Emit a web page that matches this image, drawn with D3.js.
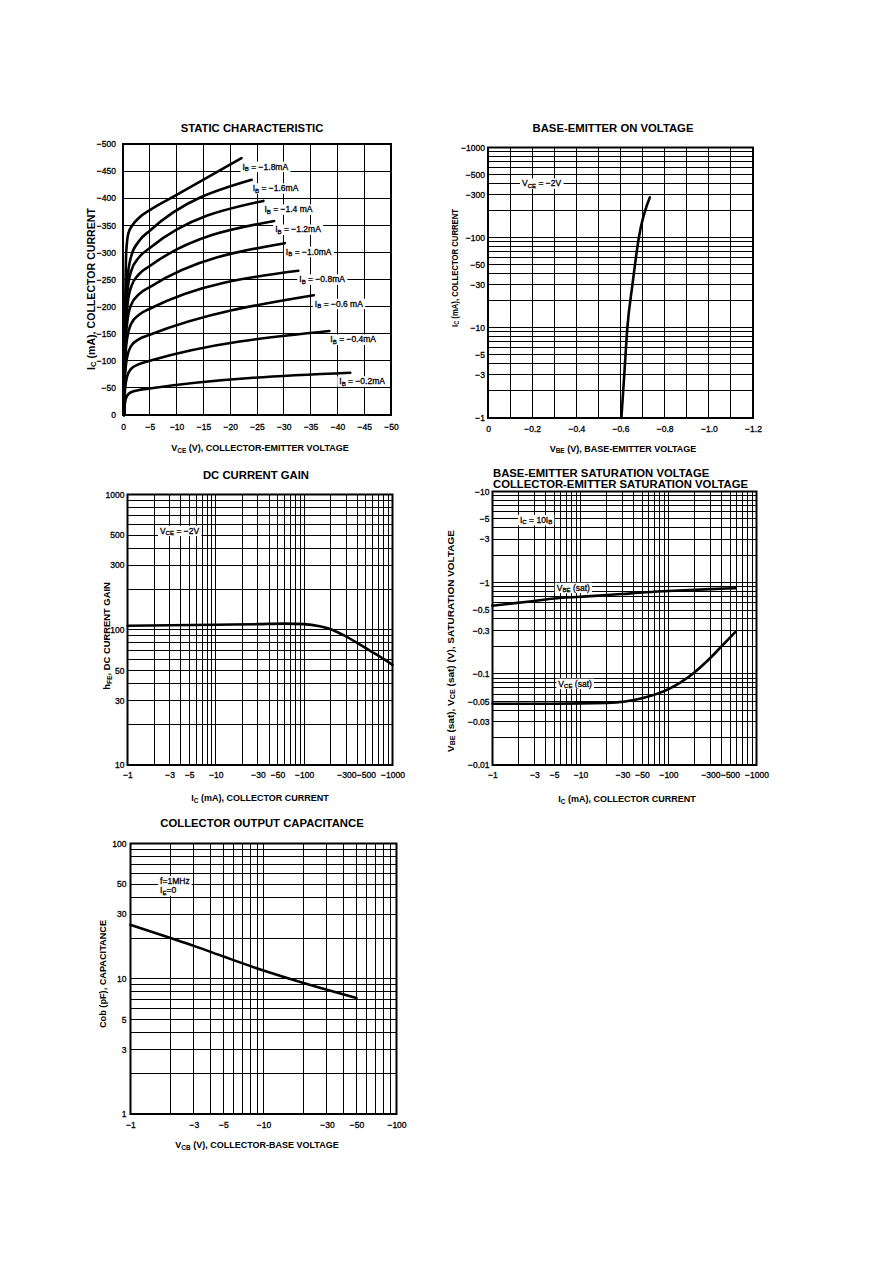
<!DOCTYPE html>
<html>
<head>
<meta charset="utf-8">
<script src="https://cdn.jsdelivr.net/npm/d3@7"></script>
<style>
body { margin: 0; background: #fff; }
svg text { font-family: "Liberation Sans", Arial, Helvetica, sans-serif; fill: #000; }
.grid line { stroke: #000; stroke-width: 1; shape-rendering: crispEdges; }
.frame { fill: none; stroke: #000; stroke-width: 2; }
.curve { fill: none; stroke: #000; stroke-width: 2.6; stroke-linejoin: round; stroke-linecap: round; }
.heavy { stroke: #000; stroke-width: 0.3px; }
</style>
</head>
<body>
<svg id="chart" width="892" height="1263"></svg>
<script>
// ---------------- data ----------------

// static characteristic (Vce in -V, Ic in -mA)
var vceTicks = [0, 5, 10, 15, 20, 25, 30, 35, 40, 45, 50];
var vceTickLabels = ["0", "\u22125", "\u221210", "\u221215", "\u221220", "\u221225", "\u221230", "\u221235", "\u221240", "\u221245", "\u221250"];
var icStaticTicks = [0, 50, 100, 150, 200, 250, 300, 350, 400, 450, 500];
var icStaticTickLabels = ["0", "\u221250", "\u2212100", "\u2212150", "\u2212200", "\u2212250", "\u2212300", "\u2212350", "\u2212400", "\u2212450", "\u2212500"];
var ibLabels = ["\u22120.2mA", "\u22120.4mA", "\u22120.6 mA", "\u22120.8mA", "\u22121.0mA", "\u22121.2mA", "\u22121.4 mA", "\u22121.6mA", "\u22121.8mA"];
var ib02 = [[0.2, 0], [0.4, 25], [0.8, 36], [1.5, 42], [3, 46], [5, 49], [42.4, 78]];
var ib04 = [[0.2, 0], [0.4, 50], [0.8, 72], [1.5, 85], [3, 94], [5, 100], [38.5, 155]];
var ib06 = [[0.2, 0], [0.4, 75], [0.8, 108], [1.5, 127], [3, 140], [5, 148], [35.6, 221]];
var ib08 = [[0.2, 0], [0.4, 100], [0.8, 143], [1.5, 168], [3, 185], [5, 196], [32.7, 266]];
var ib10 = [[0.2, 0], [0.4, 120], [0.8, 172], [1.5, 203], [3, 223], [5, 236], [30.2, 317]];
var ib12 = [[0.2, 0], [0.4, 140], [0.8, 200], [1.5, 236], [3, 260], [5, 275], [28.2, 358]];
var ib14 = [[0.2, 0], [0.4, 157], [0.8, 225], [1.5, 265], [3, 291], [5, 308], [26.2, 395]];
var ib16 = [[0.2, 0], [0.4, 173], [0.8, 248], [1.5, 292], [3, 321], [5, 340], [24.0, 434]];
var ib18 = [[0.2, 0], [0.4, 195], [0.6, 300], [1.0, 335], [1.9, 352], [3, 364], [5, 378], [10, 406], [22.1, 474]];

// base-emitter on voltage (Vbe in -V, Ic in -mA)
var vbeTicks = [0, 0.2, 0.4, 0.6, 0.8, 1.0, 1.2];
var vbeTickLabels = ["0", "\u22120.2", "\u22120.4", "\u22120.6", "\u22120.8", "\u22121.0", "\u22121.2"];
var icOnTicks = [1, 3, 5, 10, 30, 50, 100, 300, 500, 1000];
var icOnTickLabels = ["\u22121", "\u22123", "\u22125", "\u221210", "\u221230", "\u221250", "\u2212100", "\u2212300", "\u2212500", "\u22121000"];
var vbeOn = [[0.604, 1], [0.617, 3], [0.631, 10], [0.654, 30], [0.683, 100], [0.733, 280]];

// dc current gain
var icTicks = [1, 3, 5, 10, 30, 50, 100, 300, 500, 1000];
var icTickLabels = ["\u22121", "\u22123", "\u22125", "\u221210", "\u221230", "\u221250", "\u2212100", "\u2212300", "\u2212500", "\u22121000"];
var hfeTicks = [10, 30, 50, 100, 300, 500, 1000];
var hfeTickLabels = ["10", "30", "50", "100", "300", "500", "1000"];
var hfe = [[1, 107], [3, 108], [10, 109], [30, 110], [60, 111], [100, 110], [150, 106], [200, 101], [300, 89], [500, 73], [700, 64], [1000, 55]];

// saturation voltages
var satTicks = [0.01, 0.03, 0.05, 0.1, 0.3, 0.5, 1, 3, 5, 10];
var satTickLabels = ["\u22120.01", "\u22120.03", "\u22120.05", "\u22120.1", "\u22120.3", "\u22120.5", "\u22121", "\u22123", "\u22125", "\u221210"];
var vbeSat = [[1, 0.56], [3, 0.63], [5, 0.67], [10, 0.70], [30, 0.75], [50, 0.78], [100, 0.81], [300, 0.85], [580, 0.87]];
var vceSat = [[1, 0.047], [5, 0.047], [20, 0.048], [50, 0.054], [100, 0.068], [200, 0.105], [300, 0.15], [400, 0.2], [580, 0.29]];

// collector output capacitance
var vcbTicks = [1, 3, 5, 10, 30, 50, 100];
var vcbTickLabels = ["\u22121", "\u22123", "\u22125", "\u221210", "\u221230", "\u221250", "\u2212100"];
var cobTicks = [1, 3, 5, 10, 30, 50, 100];
var cobTickLabels = ["1", "3", "5", "10", "30", "50", "100"];
var cob = [[1, 25], [2, 20], [3, 17.5], [5, 14.6], [10, 11.5], [20, 9.3], [30, 8.3], [50, 7.2]];

// ---------------- drawing ----------------
var svg = d3.select("#chart");
svg.append("rect").attr("width", 892).attr("height", 1263).attr("fill", "#fff");

// text with subscripts written as X_{sub}
function subText(sel, str) {
    var re = /_\{([^}]*)\}/g, last = 0, m, shifted = false;
    while ((m = re.exec(str)) !== null) {
        if (m.index > last) {
            sel.append("tspan").attr("dy", shifted ? -1.5 : null).text(str.slice(last, m.index));
            shifted = false;
        }
        sel.append("tspan").style("font-size", "72%").attr("dy", shifted ? null : 1.5).text(m[1]);
        shifted = true;
        last = re.lastIndex;
    }
    if (last < str.length) sel.append("tspan").attr("dy", shifted ? -1.5 : null).text(str.slice(last));
    return sel;
}

// white box behind a label so grid lines stop at it
function boxed(g, x, y, str, size) {
    var t = g.append("text").attr("class", "heavy").attr("x", x).attr("y", y)
        .style("font-size", size + "px");
    subText(t, str);
    var b = t.node().getBBox();
    g.insert("rect", function () { return t.node(); })
        .attr("x", b.x - 2).attr("y", b.y).attr("width", b.width + 4).attr("height", b.height)
        .attr("fill", "#fff");
    return t;
}

function panel(p) {
    var g = svg.append("g");
    var x = p.x, y = p.y;
    var x0 = x.range()[0], x1 = x.range()[1], y0 = y.range()[0], y1 = y.range()[1];

    var grid = g.append("g").attr("class", "grid");
    grid.selectAll(".gx").data(p.gridX).enter().append("line")
        .attr("x1", function (d) { return x(d); }).attr("x2", function (d) { return x(d); })
        .attr("y1", y0).attr("y2", y1);
    grid.selectAll(".gy").data(p.gridY).enter().append("line")
        .attr("y1", function (d) { return y(d); }).attr("y2", function (d) { return y(d); })
        .attr("x1", x0).attr("x2", x1);

    g.append("rect").attr("class", "frame")
        .attr("x", x0).attr("y", y1).attr("width", x1 - x0).attr("height", y0 - y1);

    // axes
    var ax = g.append("g").attr("transform", "translate(0," + y0 + ")")
        .call(d3.axisBottom(x).tickValues(p.xTicks)
            .tickFormat(function (d, i) { return p.xLabels[i]; })
            .tickSize(0).tickPadding(p.xPad));
    ax.select(".domain").remove();
    ax.selectAll("text").attr("class", "heavy").style("font-size", "8.5px");

    var ay = g.append("g").attr("transform", "translate(" + x0 + ",0)")
        .call(d3.axisLeft(y).tickValues(p.yTicks)
            .tickFormat(function (d, i) { return p.yLabels[i]; })
            .tickSize(0).tickPadding(p.yPad));
    ay.select(".domain").remove();
    ay.selectAll("text").attr("class", "heavy").style("font-size", "8.5px");

    // titles
    if (p.title) {
        g.append("text").attr("x", p.title[0]).attr("y", p.title[1])
            .attr("text-anchor", "middle")
            .style("font-size", "11.3px").style("font-weight", "bold").text(p.title[2]);
    }
    subText(g.append("text").attr("x", p.xTitle[0]).attr("y", p.xTitle[1])
        .attr("text-anchor", "middle").style("font-size", "9px").style("font-weight", "bold"), p.xTitle[2]);
    var yt = g.append("text")
        .attr("transform", "translate(" + p.yTitle[0] + "," + p.yTitle[1] + ")rotate(-90)")
        .attr("text-anchor", "middle").style("font-size", (p.yTitle[3] || 9) + "px").style("font-weight", "bold");
    if (p.yTitle[4]) yt.attr("textLength", p.yTitle[4]).attr("lengthAdjust", "spacingAndGlyphs");
    subText(yt, p.yTitle[2]);
    return g;
}

function curve(g, x, y, data) {
    var line = d3.line()
        .x(function (d) { return x(d[0]); })
        .y(function (d) { return y(d[1]); })
        .curve(d3.curveMonotoneX);
    g.append("path").datum(data).attr("class", "curve").attr("d", line);
}

// ---- static characteristic
var x1s = d3.scaleLinear().domain([0, 50]).range([123, 391]);
var y1s = d3.scaleLinear().domain([0, 500]).range([415, 144]);
var g1 = panel({
    x: x1s, y: y1s, gridX: vceTicks, gridY: icStaticTicks,
    xTicks: vceTicks, xLabels: vceTickLabels, xPad: 9,
    yTicks: icStaticTicks, yLabels: icStaticTickLabels, yPad: 7,
    title: [252, 132, "STATIC CHARACTERISTIC"],
    xTitle: [260, 451, "V_{CE} (V), COLLECTOR-EMITTER VOLTAGE"],
    yTitle: [94.5, 289, "I_{C} (mA), COLLECTOR CURRENT", 10.6]
});
var ibCurves = [ib02, ib04, ib06, ib08, ib10, ib12, ib14, ib16, ib18];
ibCurves.forEach(function (c, i) {
    curve(g1, x1s, y1s, c);
    var end = c[c.length - 1];
    boxed(g1, x1s(end[0]) + (i === 0 ? -11 : 1), y1s(end[1]) + 11.5, "I_{B} = " + ibLabels[i], 8.5);
});

// ---- base-emitter on voltage
var x2s = d3.scaleLinear().domain([0, 1.2]).range([488, 753]);
var y2s = d3.scaleLog().domain([1, 1000]).range([418, 147.5]);
var g2 = panel({
    x: x2s, y: y2s, gridX: x2s.ticks(12), gridY: y2s.ticks(),
    xTicks: vbeTicks, xLabels: vbeTickLabels, xPad: 7.5,
    yTicks: icOnTicks, yLabels: icOnTickLabels, yPad: 3,
    title: [613, 131.5, "BASE-EMITTER ON VOLTAGE"],
    xTitle: [623, 451.5, "V_{BE} (V), BASE-EMITTER VOLTAGE"],
    yTitle: [457.5, 268, "I_{C} (mA), COLLECTOR CURRENT", 9.2, 118]
});
curve(g2, x2s, y2s, vbeOn);
boxed(g2, x2s(0.154), y2s(400) + 3, "V_{CE} = \u22122V", 8.5);

// ---- dc current gain
var x3s = d3.scaleLog().domain([1, 1000]).range([127.5, 392.5]);
var y3s = d3.scaleLog().domain([10, 1000]).range([765, 494.5]);
var g3 = panel({
    x: x3s, y: y3s, gridX: x3s.ticks(), gridY: y3s.ticks(),
    xTicks: icTicks, xLabels: icTickLabels, xPad: 7,
    yTicks: hfeTicks, yLabels: hfeTickLabels, yPad: 3,
    title: [256, 478.5, "DC CURRENT GAIN"],
    xTitle: [260, 801, "I_{C} (mA), COLLECTOR CURRENT"],
    yTitle: [110, 636, "h_{FE}, DC CURRENT GAIN", 9.4]
});
curve(g3, x3s, y3s, hfe);
boxed(g3, x3s(2.33), y3s(540) + 3, "V_{CE} = \u22122V", 8.5);

// ---- saturation voltages
var x4s = d3.scaleLog().domain([1, 1000]).range([492.5, 756.5]);
var y4s = d3.scaleLog().domain([0.01, 10]).range([765, 491.5]);
var g4 = panel({
    x: x4s, y: y4s, gridX: x4s.ticks(), gridY: y4s.ticks(),
    xTicks: icTicks, xLabels: icTickLabels, xPad: 7,
    yTicks: satTicks, yLabels: satTickLabels, yPad: 3,
    title: null,
    xTitle: [627, 802, "I_{C} (mA), COLLECTOR CURRENT"],
    yTitle: [453.5, 641, "V_{BE} (sat), V_{CE} (sat) (V), SATURATION VOLTAGE", 9.3, 222]
});
g4.append("text").attr("x", 493).attr("y", 476.5)
    .style("font-size", "11.3px").style("font-weight", "bold").text("BASE-EMITTER SATURATION VOLTAGE");
g4.append("text").attr("x", 493).attr("y", 488)
    .style("font-size", "11.3px").style("font-weight", "bold").text("COLLECTOR-EMITTER SATURATION VOLTAGE");
curve(g4, x4s, y4s, vbeSat);
curve(g4, x4s, y4s, vceSat);
boxed(g4, x4s(2.05), y4s(5) + 4, "I_{C} = 10I_{B}", 8.5);
boxed(g4, x4s(5.37), y4s(0.88) + 3, "V_{BE} (sat)", 8.5);
boxed(g4, x4s(5.6), y4s(0.078) + 3, "V_{CE} (sat)", 8.5);

// ---- collector output capacitance
var x5s = d3.scaleLog().domain([1, 100]).range([130.5, 396.5]);
var y5s = d3.scaleLog().domain([1, 100]).range([1114, 843.5]);
var g5 = panel({
    x: x5s, y: y5s, gridX: x5s.ticks(), gridY: y5s.ticks(),
    xTicks: vcbTicks, xLabels: vcbTickLabels, xPad: 8,
    yTicks: cobTicks, yLabels: cobTickLabels, yPad: 4,
    title: [262, 827, "COLLECTOR OUTPUT CAPACITANCE"],
    xTitle: [257, 1148, "V_{CB} (V), COLLECTOR-BASE VOLTAGE"],
    yTitle: [106, 974, "Cob (pF), CAPACITANCE", 9, 108]
});
curve(g5, x5s, y5s, cob);
boxed(g5, x5s(1.67), y5s(53) + 3, "f=1MHz", 8.5);
boxed(g5, x5s(1.67), y5s(45) + 3, "I_{E}=0", 8.5);
</script>
</body>
</html>
